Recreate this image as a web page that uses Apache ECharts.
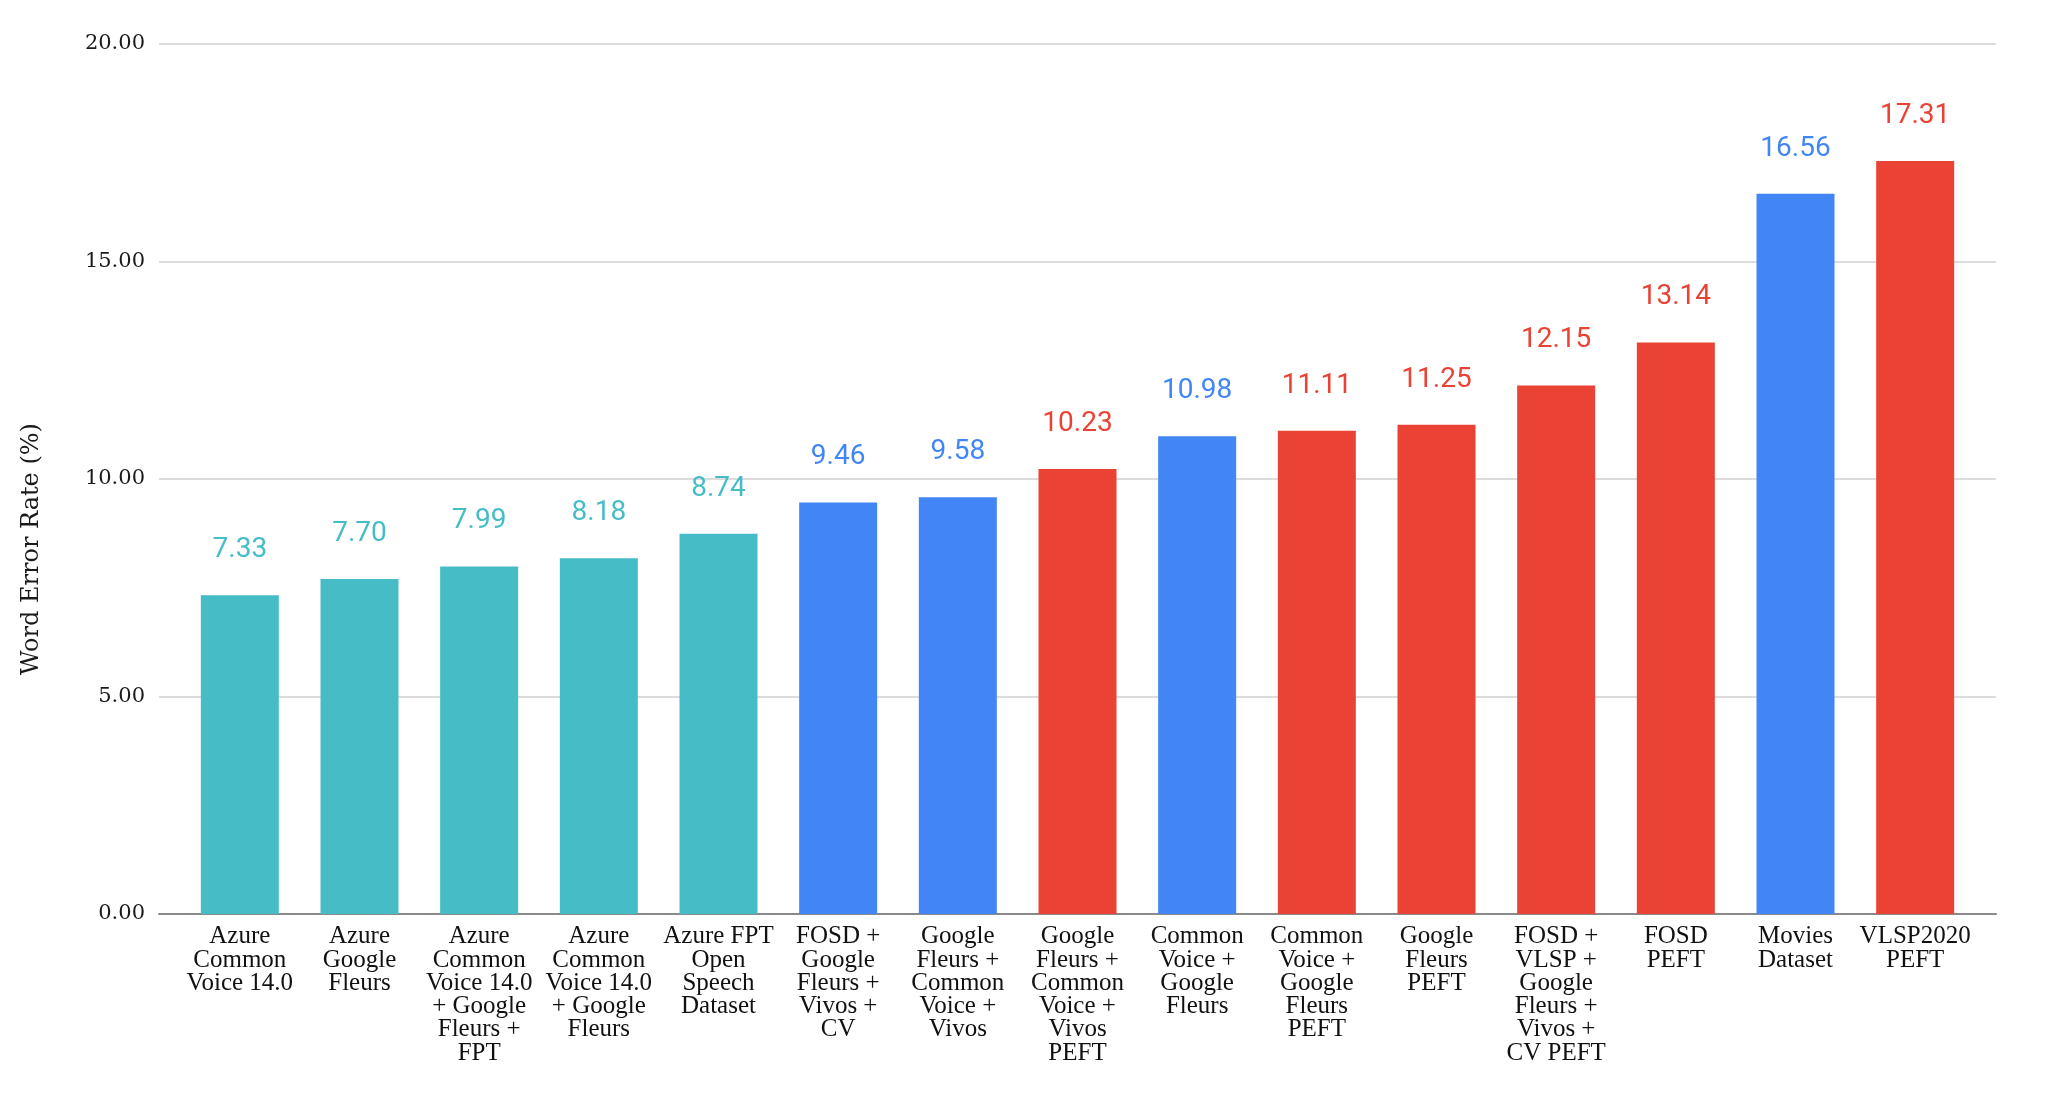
<!DOCTYPE html>
<html lang="en">
<head>
    <meta charset="UTF-8">
    <title>Word Error Rate</title>
    <style>
        html,body{
        	margin:0;
        	padding:0;
        	background-color:#ffffff;
        }
        #data{
        	width:2048px;
        	height:1103px;
        }
    </style>
</head>
<body>
<div id="data"></div>
</body>
<script src="https://cdn.jsdelivr.net/npm/echarts@6/dist/echarts.min.js"></script>
<script>
/*
 * 数据部分
 */
var categories=[
	"Azure\nCommon\nVoice 14.0",
	"Azure\nGoogle\nFleurs",
	"Azure\nCommon\nVoice 14.0\n+ Google\nFleurs +\nFPT",
	"Azure\nCommon\nVoice 14.0\n+ Google\nFleurs",
	"Azure FPT\nOpen\nSpeech\nDataset",
	"FOSD +\nGoogle\nFleurs +\nVivos +\nCV",
	"Google\nFleurs +\nCommon\nVoice +\nVivos",
	"Google\nFleurs +\nCommon\nVoice +\nVivos\nPEFT",
	"Common\nVoice +\nGoogle\nFleurs",
	"Common\nVoice +\nGoogle\nFleurs\nPEFT",
	"Google\nFleurs\nPEFT",
	"FOSD +\nVLSP +\nGoogle\nFleurs +\nVivos +\nCV PEFT",
	"FOSD\nPEFT",
	"Movies\nDataset",
	"VLSP2020\nPEFT"
];
var wer=[7.33,7.70,7.99,8.18,8.74,9.46,9.58,10.23,10.98,11.11,11.25,12.15,13.14,16.56,17.31];
var group=["azure","azure","azure","azure","azure","full","full","peft","full","peft","peft","peft","peft","full","peft"];
var yTicks=[0,5,10,15,20];

var colors={
	azure:"#46bdc6",
	full:"#4285f4",
	peft:"#ea4335"
};

/*
 * 每个柱子的颜色
 */
function buildBars(){
	var list=[];
	for(var i=0;i<wer.length;i++){
		var c=colors[group[i]];
		list.push({
			value:wer[i],
			itemStyle:{color:c},
			label:{color:c}
		});
	}
	return list;
}

var myChart=echarts.init(document.getElementById('data'));
var option={
	backgroundColor:"#ffffff",
	animation:false,
	grid:[
		{left:159,right:52,top:44,bottom:189},
		{left:180,right:73,top:44,bottom:189}
	],
	xAxis:[
		{
			gridIndex:0,
			type:"category",
			data:[""],
			axisLine:{lineStyle:{color:"#8a8a8a",width:2}},
			axisTick:{show:false},
			axisLabel:{show:false}
		},
		{
			gridIndex:1,
			type:"category",
			data:categories,
			axisLine:{show:false},
			axisTick:{show:false},
			axisLabel:{
				interval:0,
				margin:11,
				color:"#111111",
				fontFamily:"Liberation Serif",
				fontSize:25,
				lineHeight:23.3,
				align:"center",
				verticalAlign:"top"
			}
		}
	],
	yAxis:[
		{
			gridIndex:0,
			type:"value",
			min:yTicks[0],
			max:yTicks[yTicks.length-1],
			interval:yTicks[1]-yTicks[0],
			axisLine:{show:false},
			axisTick:{show:false},
			splitLine:{lineStyle:{color:"#dcdcdc",width:2}},
			axisLabel:{
				margin:14,
				color:"#1a1a1a",
				fontFamily:"DejaVu Serif",
				fontSize:21,
				formatter:function(v){return v.toFixed(2);}
			}
		},
		{
			gridIndex:1,
			type:"value",
			min:yTicks[0],
			max:yTicks[yTicks.length-1],
			interval:yTicks[1]-yTicks[0],
			show:false
		}
	],
	graphic:[
		{
			type:"text",
			x:32,
			y:549,
			rotation:Math.PI/2,
			style:{
				text:"Word Error Rate (%)",
				fill:"#1a1a1a",
				font:"24px 'DejaVu Serif'",
				align:"center",
				verticalAlign:"middle"
			}
		}
	],
	series:[
		{
			type:"bar",
			xAxisIndex:1,
			yAxisIndex:1,
			barWidth:78,
			data:buildBars(),
			label:{
				show:true,
				position:"top",
				distance:31,
				fontFamily:"Roboto",
				fontSize:28,
				formatter:function(p){return p.value.toFixed(2);}
			}
		}
	]
};
myChart.setOption(option,true);
</script>
</html>
